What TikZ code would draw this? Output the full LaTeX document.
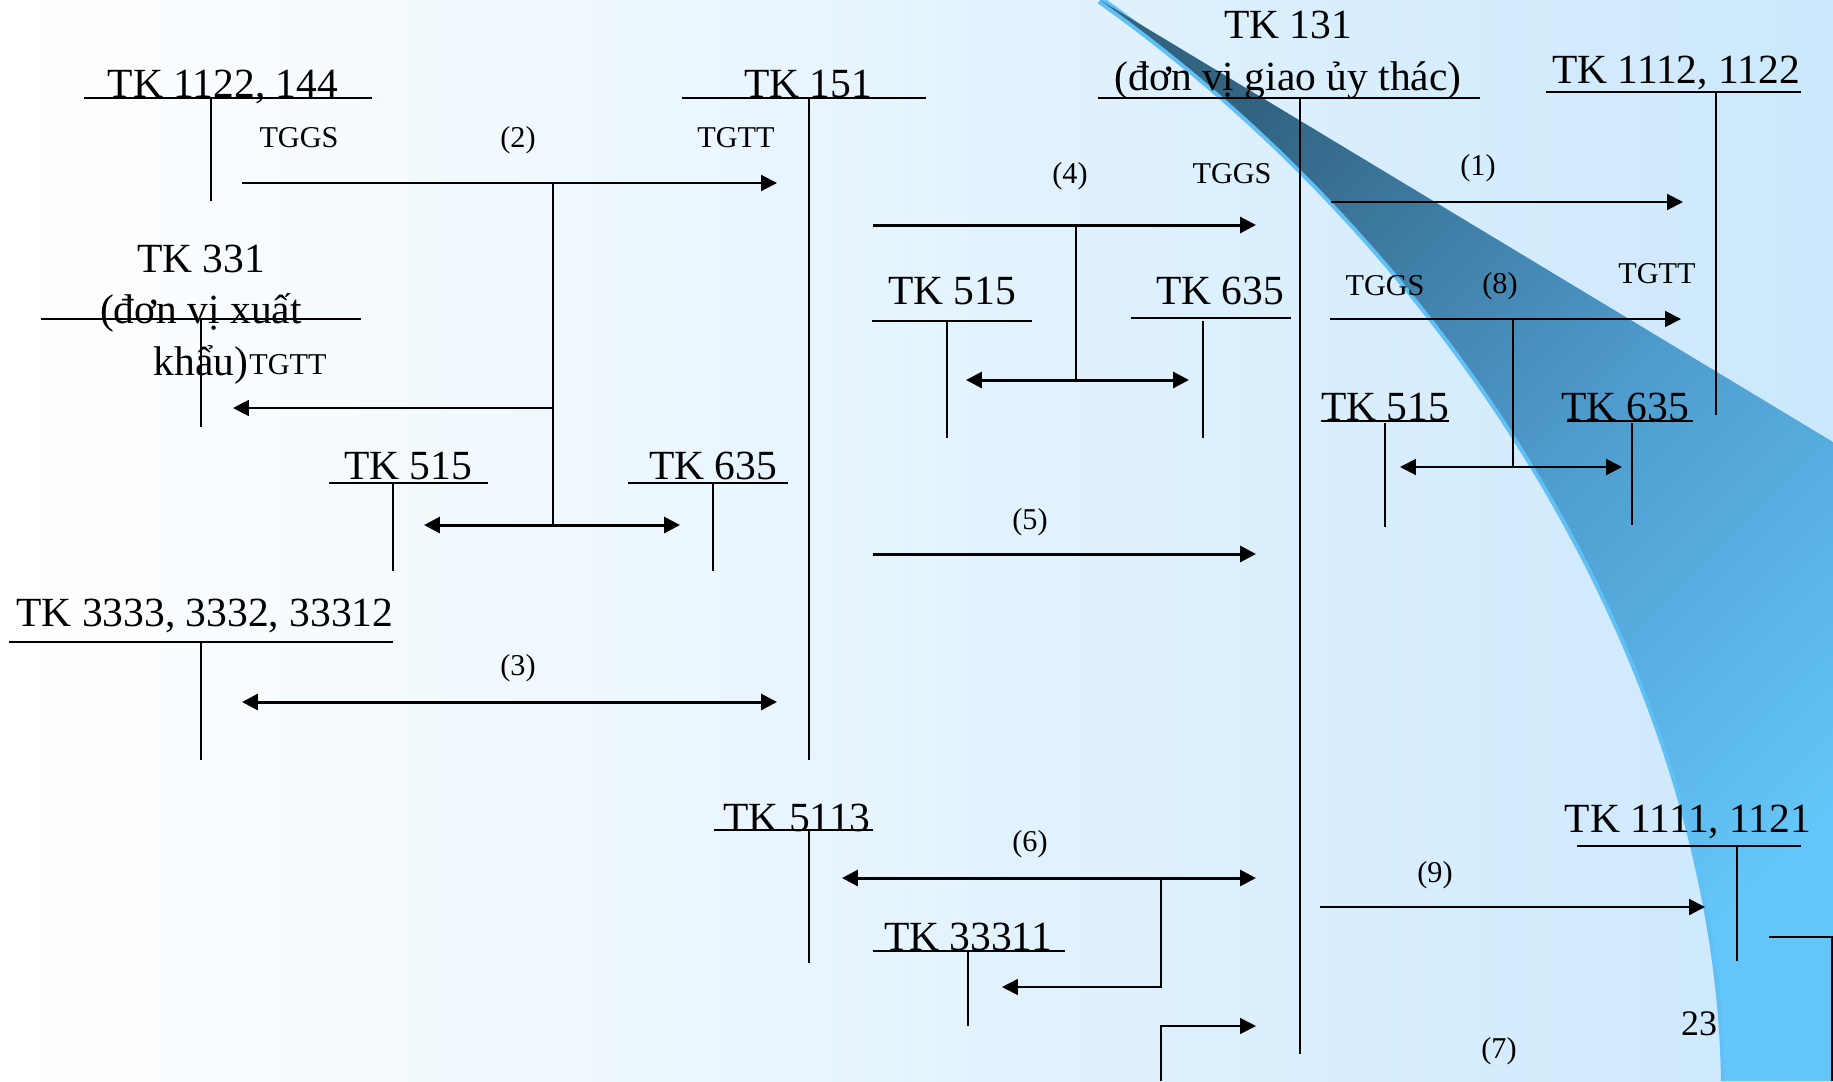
\documentclass[tikz,border=0pt]{standalone}
\usepackage{fontspec}
\setmainfont{Liberation Serif}
\usetikzlibrary{arrows.meta, calc, positioning}

\definecolor{bgblue}{RGB}{203,232,252}
\definecolor{swooshdark}{RGB}{50,100,130}
\definecolor{swooshmid}{RGB}{78,155,205}
\definecolor{swooshlight}{RGB}{100,198,248}
\definecolor{edgeblue}{RGB}{96,192,246}

\begin{document}
\begin{tikzpicture}[
        x=0.01cm, y=-0.01cm,
        >={Triangle[length=4.5pt, width=4.5pt]},
        % Styles
        acct/.style={font=\fontsize{11.8}{14.6}\selectfont, inner sep=0pt, anchor=base},
        lbl/.style={font=\fontsize{8.6}{10}\selectfont, inner sep=0pt, anchor=base},
        tline/.style={draw=black, line width=0.45pt},
        uline/.style={draw=black, line width=0.6pt},
        arrow/.style={->, line width=0.6pt},
        thin_arrow/.style={->, line width=0.45pt},
        bold_arrow/.style={->, line width=0.85pt},
        twoway/.style={<->, line width=0.85pt},
        thin_twoway/.style={<->, line width=0.6pt}
    ]

    % Background and swoosh
    \useasboundingbox (0,0) rectangle (1833,1081);
    \shade[left color=white, right color=bgblue] (0,0) rectangle (1833,1081);
    \draw[line width=2.3pt, draw=edgeblue] (1100,0) .. controls (1480,270) and (1720,700) .. (1725,1081);
    \shade[top color=swooshdark, bottom color=swooshlight, middle color=swooshmid, shading angle=45]
        (1100,0) -- (1833,442) -- (1833,1081) -- (1725,1081) .. controls (1720,700) and (1480,270) .. (1100,0) -- cycle;

    % Account titles (left block)
    \node[acct] (tk_1122) at (223,97) {TK 1122, 144};
    \node[acct] (tk_151) at (808,97) {TK 151};
    \node[acct, align=center] (tk_331) at (201,375) {TK 331\\(đơn vị xuất\\khẩu)};
    \node[acct] (tk_515a) at (408,479) {TK 515};
    \node[acct] (tk_635a) at (713,479) {TK 635};
    \node[acct] (tk_3333) at (205,626) {TK 3333, 3332, 33312};
    \node[acct] (tk_5113) at (797,831) {TK 5113};
    \node[acct] (tk_33311) at (968,950) {TK 33311};

    % Account titles (right block)
    \node[acct, align=center] (tk_131) at (1288,90) {TK 131\\(đơn vị giao ủy thác)};
    \node[acct] (tk_515b) at (952,304) {TK 515};
    \node[acct] (tk_635b) at (1220,304) {TK 635};
    \node[acct] (tk_1112) at (1676,83) {TK 1112, 1122};
    \node[acct] (tk_515c) at (1385,420) {TK 515};
    \node[acct] (tk_635c) at (1625,420) {TK 635};
    \node[acct] (tk_1111) at (1688,832) {TK 1111, 1121};
    \node[font=\fontsize{10.2}{12}\selectfont, inner sep=0pt, anchor=base] (page_no) at (1699,1035) {23};

    % T-account lines
    \draw[uline] (84,98) -- (372,98);      \draw[tline] (211,98) -- (211,201);
    \draw[uline] (682,98) -- (926,98);     \draw[tline] (809,98) -- (809,760);
    \draw[uline] (41,319) -- (361,319);    \draw[tline] (201,319) -- (201,427);
    \draw[uline] (329,483) -- (488,483);   \draw[tline] (393,483) -- (393,571);
    \draw[uline] (628,483) -- (788,483);   \draw[tline] (713,483) -- (713,571);
    \draw[uline] (9,642) -- (393,642);     \draw[tline] (201,642) -- (201,760);
    \draw[uline] (714,830) -- (873,830);   \draw[tline] (809,830) -- (809,963);
    \draw[uline] (873,951) -- (1065,951);  \draw[tline] (968,951) -- (968,1026);
    \draw[uline] (1098,98) -- (1480,98);   \draw[tline] (1300,98) -- (1300,1054);
    \draw[uline] (872,321) -- (1032,321);  \draw[tline] (947,321) -- (947,438);
    \draw[uline] (1131,318) -- (1291,318); \draw[tline] (1203,321) -- (1203,438);
    \draw[uline] (1546,92) -- (1801,92);   \draw[tline] (1716,92) -- (1716,415);
    \draw[uline] (1321,421) -- (1449,421); \draw[tline] (1385,423) -- (1385,527);
    \draw[uline] (1567,421) -- (1693,421); \draw[tline] (1632,423) -- (1632,525);
    \draw[uline] (1577,846) -- (1801,846); \draw[tline] (1737,846) -- (1737,961);
    \draw[tline] (1769,937) -- (1832,937) -- (1832,1081);

    % (2) import through TK 151
    \coordinate (s2) at (242,183);
    \coordinate (e2) at (777,183);
    \coordinate (k2) at (553,183);
    \coordinate (e2_331) at (233,408);
    \coordinate (l2) at (424,525);
    \coordinate (r2) at (680,525);
    \draw[arrow] (s2) -- (e2);
    \draw[tline] (k2) -- (k2 |- l2);
    \draw[arrow] (k2 |- e2_331) -- (e2_331);
    \draw[twoway] (l2) -- (r2);
    \node[lbl] (tggs_2) at (299,147) {TGGS};
    \node[lbl] (n2) at (518,147) {(2)};
    \node[lbl] (tgtt_2) at (736,147) {TGTT};
    \node[lbl] (tgtt_331) at (288,374) {TGTT};

    % (3) taxes
    \coordinate (s3) at (242,702);
    \coordinate (e3) at (777,702);
    \draw[twoway] (s3) -- (e3);
    \node[lbl] (n3) at (518,675) {(3)};

    % (4) and (5) towards TK 131
    \coordinate (s4) at (873,225);
    \coordinate (e4) at (1256,225);
    \coordinate (k4) at (1076,225);
    \coordinate (l4) at (966,380);
    \coordinate (r4) at (1189,380);
    \draw[bold_arrow] (s4) -- (e4);
    \draw[tline] (k4) -- (k4 |- l4);
    \draw[twoway] (l4) -- (r4);
    \node[lbl] (n4) at (1070,183) {(4)};
    \node[lbl] (tggs_4) at (1232,183) {TGGS};

    \coordinate (s5) at (873,554);
    \coordinate (e5) at (1256,554);
    \draw[bold_arrow] (s5) -- (e5);
    \node[lbl] (n5) at (1030,529) {(5)};

    % (6) and (7) fees
    \coordinate (l6) at (842,878);
    \coordinate (r6) at (1256,878);
    \coordinate (k6) at (1161,878);
    \coordinate (e6_33311) at (1002,987);
    \draw[twoway] (l6) -- (r6);
    \draw[thin_arrow] (k6) |- (e6_33311);
    \node[lbl] (n6) at (1030,851) {(6)};

    \coordinate (k7) at (1161,1081);
    \coordinate (e7) at (1256,1026);
    \draw[thin_arrow] (k7) |- (e7);
    \node[lbl] (n7) at (1499,1058) {(7)};

    % (1), (8), (9) settlement with TK 131
    \coordinate (s1) at (1331,202);
    \coordinate (e1) at (1683,202);
    \draw[arrow] (s1) -- (e1);
    \node[lbl] (n1) at (1478,175) {(1)};

    \coordinate (s8) at (1330,319);
    \coordinate (e8) at (1681,319);
    \coordinate (k8) at (1513,319);
    \coordinate (l8) at (1400,467);
    \coordinate (r8) at (1622,467);
    \draw[thin_arrow] (s8) -- (e8);
    \draw[tline] (k8) -- (k8 |- l8);
    \draw[thin_twoway] (l8) -- (r8);
    \node[lbl] (tggs_8) at (1385,295) {TGGS};
    \node[lbl] (n8) at (1500,293) {(8)};
    \node[lbl] (tgtt_8) at (1657,283) {TGTT};

    \coordinate (s9) at (1320,907);
    \coordinate (e9) at (1705,907);
    \draw[arrow] (s9) -- (e9);
    \node[lbl] (n9) at (1435,882) {(9)};

\end{tikzpicture}
\end{document}
